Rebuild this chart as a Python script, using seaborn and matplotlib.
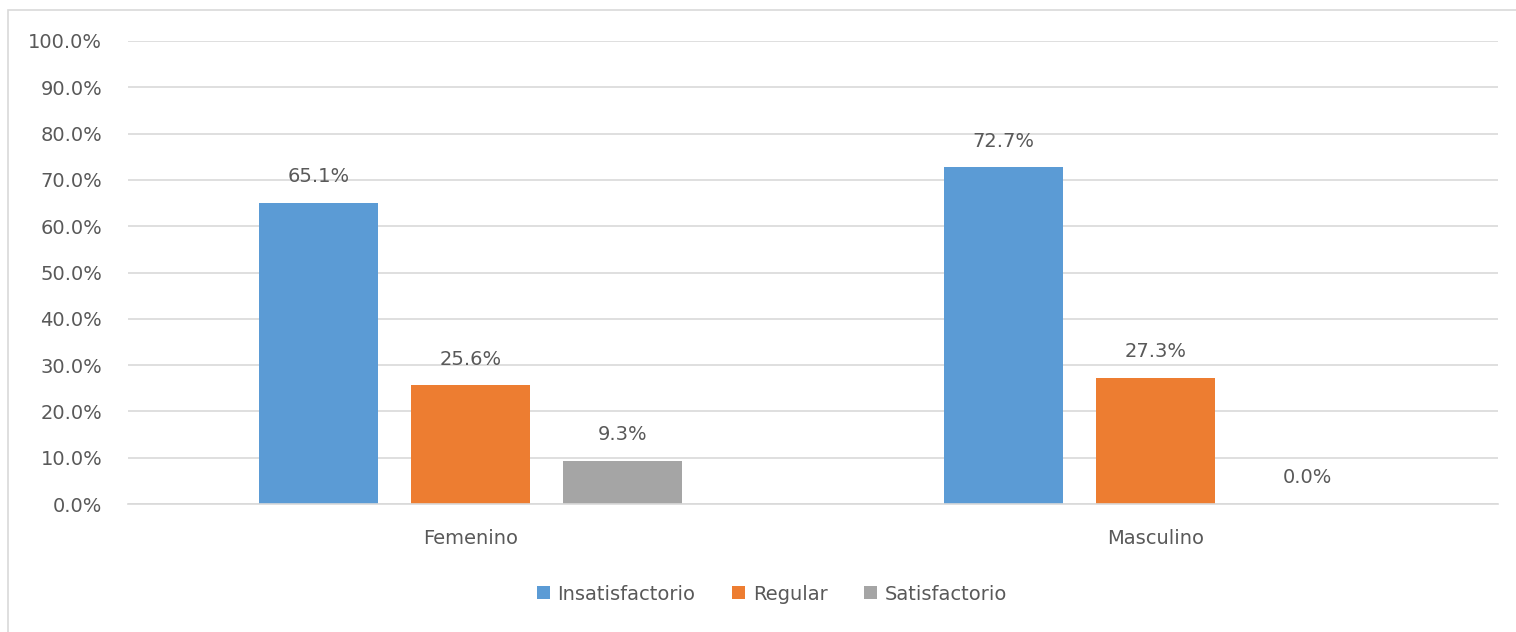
import matplotlib
matplotlib.use("Agg")
import matplotlib.pyplot as plt
import seaborn as sns
import pandas as pd
from matplotlib.patches import Rectangle, Patch

# Data
categories = ["Femenino", "Masculino"]
levels = ["Insatisfactorio", "Regular", "Satisfactorio"]
femenino = [65.1, 25.6, 9.3]
masculino = [72.7, 27.3, 0.0]
colors = ["#5B9BD5", "#ED7D31", "#A5A5A5"]

rows = []
for cat, vals in zip(categories, [femenino, masculino]):
    for lvl, v in zip(levels, vals):
        rows.append({"sexo": cat, "nivel": lvl, "pct": v})
df = pd.DataFrame(rows)

sns.set_theme(style="white")
plt.rcParams["font.family"] = ["DejaVu Sans"]
text_color = "#595959"
grid_color = "#D9D9D9"
fs = 14

fig = plt.figure(figsize=(15.16, 6.32), dpi=100)
W, H = 1516, 632
ax = fig.add_axes([128 / W, (H - 504) / H, 1370 / W, 463 / H])

sns.barplot(data=df, x="sexo", y="pct", hue="nivel", order=categories,
            hue_order=levels, palette=colors, width=0.666, gap=0.217,
            saturation=1, linewidth=0, ax=ax, legend=False)

ax.set_ylim(0, 100)
ax.set_xlim(-0.5, 1.5)
ax.set_yticks(range(0, 101, 10))
ax.set_yticklabels([f"{t:.1f}%" for t in range(0, 101, 10)])
ax.yaxis.grid(True, color=grid_color, linewidth=1.2)
ax.set_axisbelow(True)
for side in ["top", "right", "left"]:
    ax.spines[side].set_visible(False)
ax.spines["bottom"].set_color(grid_color)
ax.spines["bottom"].set_linewidth(1.2)
ax.tick_params(axis="both", length=0, colors=text_color, labelsize=fs)
ax.tick_params(axis="x", pad=18)
ax.tick_params(axis="y", pad=18.5)
ax.set_xlabel("")
ax.set_ylabel("")

# Value labels above each bar
for container in ax.containers:
    ax.bar_label(container, labels=[f"{b.get_height():.1f}%" for b in container],
                 padding=12, color=text_color, fontsize=fs)

# Legend below the axes
handles = [Patch(facecolor=c, edgecolor="none") for c in colors]
fig.legend(handles, levels, loc="center", bbox_to_anchor=(772 / W, 1 - 594 / H),
           ncol=3, frameon=False, fontsize=fs, handlelength=0.65, handleheight=0.65,
           handletextpad=0.4, columnspacing=1.9, labelcolor=text_color)

# Chart frame
fig.patches.append(Rectangle((8 / W, -0.1), 1.2, 1 - 10 / H + 0.1,
                             transform=fig.transFigure, fill=False,
                             edgecolor=grid_color, linewidth=1.2))

fig.savefig("out.png", dpi=100)
